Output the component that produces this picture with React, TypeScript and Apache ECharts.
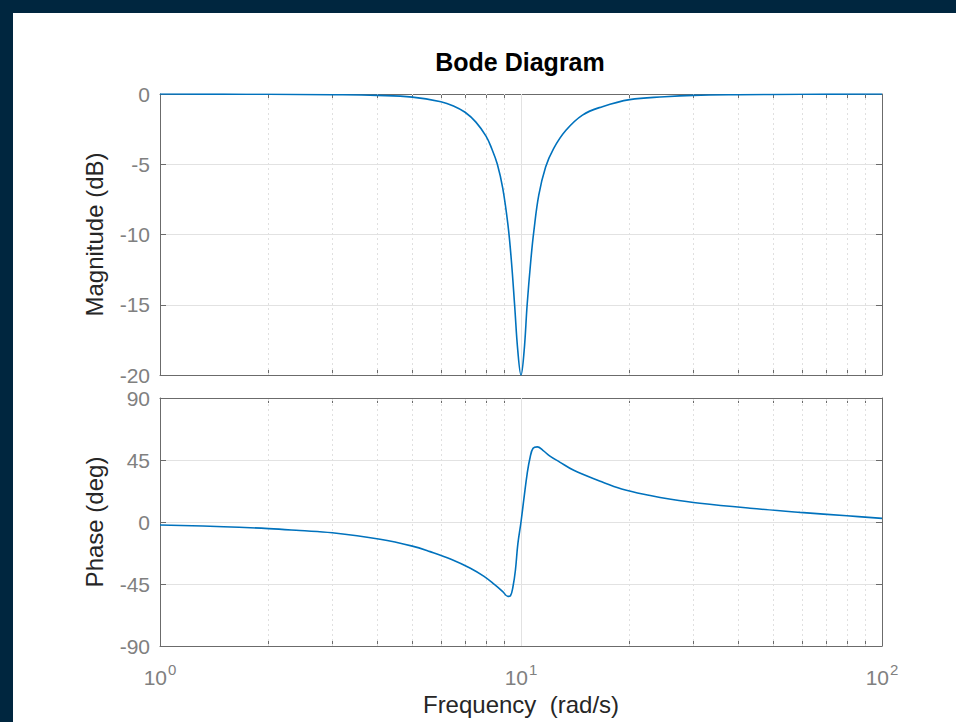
import React, { useEffect, useRef } from "react";
import * as echarts from "echarts";

// Magnitude response (rad/s, dB)
const magFreq = [1, 1.5, 2, 3, 4, 5, 6, 6.5, 7, 7.5, 8, 8.3, 8.6, 8.9, 9.2, 9.4, 9.6, 9.8, 10, 10.2, 10.4, 10.65, 10.85, 11.2, 11.7, 12.3, 13.3, 14.8, 16.8, 20, 25, 30, 40, 60, 100];
const magDb = [0, -0.01, -0.02, -0.05, -0.1, -0.22, -0.55, -0.85, -1.3, -2.0, -3.0, -3.9, -5.0, -6.7, -9.3, -11.8, -15.0, -18.3, -20, -18.3, -15.0, -11.8, -9.8, -7.2, -5.2, -3.9, -2.6, -1.5, -0.9, -0.4, -0.2, -0.1, -0.05, -0.02, 0];

// Phase response (rad/s, deg)
const phaseFreq = [1, 1.5, 2, 2.44, 3, 4.07, 5, 5.6, 6.4, 7.22, 7.9, 8.47, 8.9, 9.2, 9.35, 9.5, 9.65, 9.8, 10, 10.2, 10.4, 10.6, 10.8, 11.1, 11.5, 12, 12.8, 14, 16.5, 19, 22.8, 26, 31.3, 43.1, 59.3, 80, 100];
const phaseDeg = [-2.2, -3.4, -4.8, -6.2, -7.8, -12.5, -17.5, -21.5, -27, -33.4, -39.5, -45.7, -50.5, -54, -53.5, -47, -35, -16, 0, 18, 35, 47, 53.5, 54.5, 52, 48, 43.5, 37.5, 29.8, 24, 19.2, 16.5, 13.6, 10, 7, 4.5, 2.6];

const majorFreqTicks = [1, 10, 100];
const minorFreqTicks = [2, 3, 4, 5, 6, 7, 8, 9, 20, 30, 40, 50, 60, 70, 80, 90];
const allFreqTicks = [1, 2, 3, 4, 5, 6, 7, 8, 9, 10, 20, 30, 40, 50, 60, 70, 80, 90, 100];

const magRange = { min: -20, max: 0, interval: 5 };
const phaseRange = { min: -90, max: 90, interval: 45 };

const FONT = "'Liberation Sans', Arial, Helvetica, sans-serif";
const BOX = "#6b6b6b";
const LABEL = "#808080";
const NAME = "#262626";
const GRID_SOLID = "#e2e2e2";
const GRID_DOT = "#e0e0e0";
const LINE = "#0072BD";

export default function App() {
  const ref = useRef<HTMLDivElement>(null);

  useEffect(() => {
    document.body.style.margin = "0";
    const chart = echarts.init(ref.current!, null, { renderer: "svg" });

    const xBase = (gridIndex: number, position: "top" | "bottom", labels: boolean): any => ({
      type: "log",
      logBase: 10,
      min: 1,
      max: 100,
      gridIndex,
      position,
      axisLine: { show: true, onZero: false, lineStyle: { color: BOX, width: 1 } },
      axisTick: {
        show: true,
        inside: true,
        length: 5,
        customValues: allFreqTicks,
        lineStyle: { color: BOX, width: 1 },
      },
      axisLabel: labels
        ? {
            show: true,
            margin: 16,
            formatter: (v: number) => `{b|10}{s|${Math.round(Math.log10(v))}}`,
            rich: {
              b: { fontSize: 21, color: LABEL, fontFamily: FONT },
              s: { fontSize: 15, color: LABEL, fontFamily: FONT, padding: [0, 0, 15, 1] },
            },
          }
        : { show: false },
      splitLine: { show: false },
      name: labels ? "Frequency  (rad/s)" : "",
      nameLocation: "middle",
      nameGap: 46,
      nameTextStyle: { fontSize: 24, color: NAME, fontFamily: FONT },
    });

    const yBase = (gridIndex: number, position: "left" | "right", range: any, name: string): any => ({
      type: "value",
      gridIndex,
      position,
      min: range.min,
      max: range.max,
      interval: range.interval,
      axisLine: { show: true, lineStyle: { color: BOX, width: 1 } },
      axisTick: { show: true, inside: true, length: 6, lineStyle: { color: BOX, width: 1 } },
      axisLabel:
        position === "left"
          ? { show: true, fontSize: 21, color: LABEL, fontFamily: FONT, margin: 10 }
          : { show: false },
      splitLine: { show: position === "left", lineStyle: { color: GRID_SOLID, width: 1 } },
      name: position === "left" ? name : "",
      nameLocation: "middle",
      nameGap: 54,
      nameTextStyle: { fontSize: 24, color: NAME, fontFamily: FONT },
    });

    const gridLines = (xi: number, yi: number): any => ({
      type: "line",
      xAxisIndex: xi,
      yAxisIndex: yi,
      data: [],
      silent: true,
      markLine: {
        silent: true,
        z: 1,
        symbol: ["none", "none"],
        label: { show: false },
        data: [
          ...minorFreqTicks.map((v) => ({ xAxis: v, lineStyle: { type: [2, 3], color: GRID_DOT, width: 1 } })),
          ...majorFreqTicks.slice(1, 2).map((v) => ({ xAxis: v, lineStyle: { type: "solid", color: GRID_SOLID, width: 1 } })),
        ],
      },
    });

    const option: any = {
      animation: false,
      graphic: [
        {
          type: "text",
          x: 520,
          y: 62,
          style: {
            text: "Bode Diagram",
            fontSize: 25,
            fontWeight: "bold",
            fontFamily: FONT,
            fill: "#000",
            textAlign: "center",
            textVerticalAlign: "middle",
          },
        },
      ],
      grid: [
        { left: 160, top: 94, width: 722, height: 281 },
        { left: 160, top: 398, width: 722, height: 248 },
      ],
      xAxis: [
        xBase(0, "bottom", false),
        xBase(0, "top", false),
        xBase(1, "bottom", true),
        xBase(1, "top", false),
      ],
      yAxis: [
        yBase(0, "left", magRange, "Magnitude (dB)"),
        yBase(0, "right", magRange, ""),
        yBase(1, "left", phaseRange, "Phase (deg)"),
        yBase(1, "right", phaseRange, ""),
      ],
      series: [
        gridLines(0, 0),
        gridLines(2, 2),
        {
          type: "line",
          xAxisIndex: 0,
          yAxisIndex: 0,
          z: 3,
          data: magFreq.map((f, i) => [f, magDb[i]]),
          showSymbol: false,
          smooth: 0.4,
          lineStyle: { color: LINE, width: 1.6 },
        },
        {
          type: "line",
          xAxisIndex: 2,
          yAxisIndex: 2,
          z: 3,
          data: phaseFreq.map((f, i) => [f, phaseDeg[i]]),
          showSymbol: false,
          smooth: 0.4,
          lineStyle: { color: LINE, width: 1.6 },
        },
      ],
    };

    chart.setOption(option);
    return () => chart.dispose();
  }, []);

  return (
    <div style={{ position: "relative", width: 956, height: 722, background: "#00263f", overflow: "hidden" }}>
      <div style={{ position: "absolute", left: 13, top: 13, right: 0, bottom: 0, background: "#ffffff" }} />
      <div ref={ref} style={{ position: "absolute", left: 0, top: 0, width: 956, height: 722 }} />
    </div>
  );
}
